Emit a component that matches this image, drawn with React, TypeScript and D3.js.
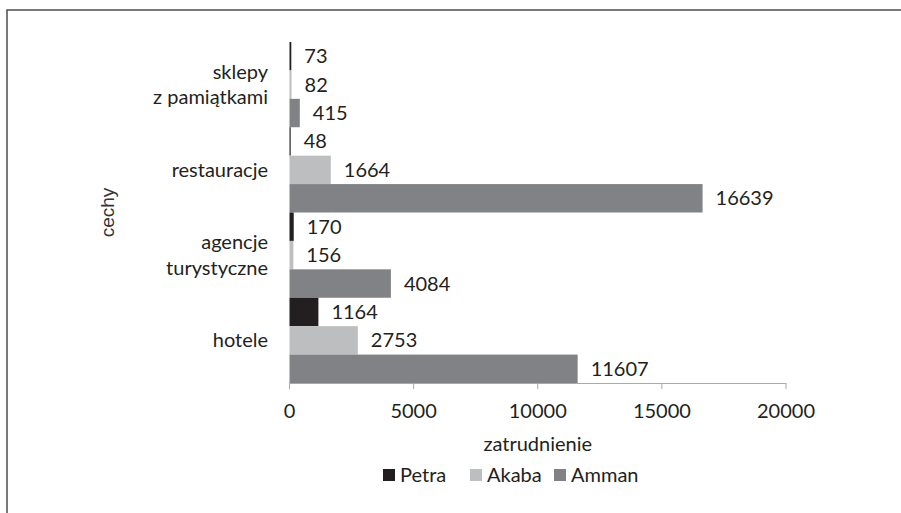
import React from "react";
import * as d3 from "d3";

const categories = ["sklepy\nz pamiątkami", "restauracje", "agencje\nturystyczne", "hotele"];
const seriesNames = ["Petra", "Akaba", "Amman"];
const petra = [73, 48, 170, 1164];
const akaba = [82, 1664, 156, 2753];
const amman = [415, 16639, 4084, 11607];
const xTicks = [0, 5000, 10000, 15000, 20000];
const colors = ["#231f20", "#bcbec0", "#808285"];

const W = 901;
const H = 513;
const FONT = "Lato, 'Open Sans', sans-serif";
const FS = 20;
const TEXT = "#231f20";

export default function App() {
  const left = 289.5;
  const right = 786;
  const top = 42;
  const bottom = 383;
  const x = d3.scaleLinear().domain([0, 20000]).range([left, right]);
  const y0 = d3.scaleBand().domain(categories).range([top, bottom]).padding(0);
  const y1 = d3.scaleBand().domain(seriesNames).range([0, y0.bandwidth()]).padding(0);
  const series = [petra, akaba, amman];
  const legendX = [383, 470, 554];

  return (
    <svg width={W} height={H} style={{ position: "absolute", left: 0, top: 0, background: "#fff" }}>
      <rect x={7} y={10} width={W + 20} height={H + 20} fill="#fff" stroke="#4d4d4d" strokeWidth={1.5} />
      {categories.map((c, ci) => (
        <g key={c}>
          {series.map((s, si) => {
            const yy = (y0(c) as number) + (y1(seriesNames[si]) as number);
            const w = x(s[ci]) - x(0);
            return (
              <g key={si}>
                <rect x={x(0)} y={yy} width={w} height={y1.bandwidth()} fill={colors[si]} />
                <text
                  x={x(s[ci]) + 13}
                  y={yy + y1.bandwidth() / 2}
                  dy="0.35em"
                  fontFamily={FONT}
                  fontSize={FS}
                  fill={TEXT}
                >
                  {s[ci]}
                </text>
              </g>
            );
          })}
          {(() => {
            const lines = c.split("\n");
            const cy = (y0(c) as number) + y0.bandwidth() / 2;
            const lh = 25.5;
            return lines.map((ln, li) => (
              <text
                key={li}
                x={268}
                y={cy + (li - (lines.length - 1) / 2) * lh}
                dy="0.35em"
                textAnchor="end"
                fontFamily={FONT}
                fontSize={FS}
                fill={TEXT}
              >
                {ln}
              </text>
            ));
          })()}
        </g>
      ))}
      <line x1={x(0)} x2={x(20000)} y1={bottom + 0.5} y2={bottom + 0.5} stroke="#a7a9ac" strokeWidth={1} />
      {xTicks.map((t) => (
        <g key={t}>
          <line x1={x(t)} x2={x(t)} y1={bottom} y2={bottom + 6} stroke="#a7a9ac" strokeWidth={1} />
          <text x={x(t)} y={410.5} dy="0.35em" textAnchor="middle" fontFamily={FONT} fontSize={FS} fill={TEXT}>
            {t}
          </text>
        </g>
      ))}
      <text x={(left + right) / 2} y={444} dy="0.35em" textAnchor="middle" fontFamily={FONT} fontSize={FS} fill={TEXT}>
        zatrudnienie
      </text>
      <text
        transform={`translate(107, ${(top + bottom) / 2}) rotate(-90)`}
        dy="0.35em"
        textAnchor="middle"
        fontFamily="'Liberation Sans', Arial, sans-serif"
        fontSize={19}
        fill="#333"
      >
        cechy
      </text>
      {seriesNames.map((n, i) => {
        const lx = legendX[i];
        return (
          <g key={n}>
            <rect x={lx} y={469} width={12} height={12} fill={colors[i]} />
            <text x={lx + 17} y={475} dy="0.35em" fontFamily={FONT} fontSize={FS} fill={TEXT}>
              {n}
            </text>
          </g>
        );
      })}
    </svg>
  );
}
